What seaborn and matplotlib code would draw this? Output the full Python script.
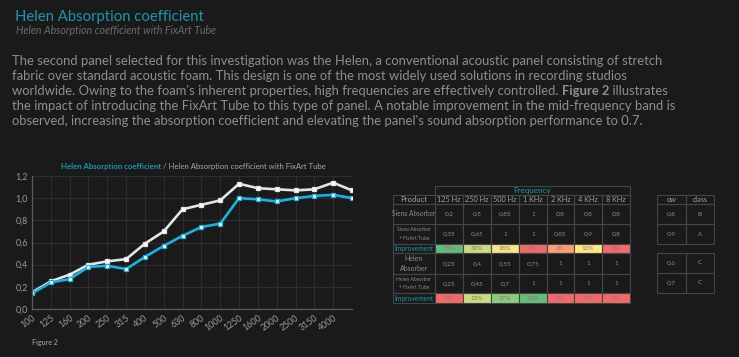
import matplotlib
matplotlib.use("Agg")
import matplotlib.pyplot as plt
from matplotlib.patches import Rectangle
from matplotlib.ticker import FuncFormatter
import seaborn as sns
import pandas as pd
import numpy as np

# ---------------- data ----------------
freqs = ["100", "125", "160", "200", "250", "315", "400", "500", "630", "800",
         "1000", "1250", "1600", "2000", "2500", "3150", "4000", "5000"]
helen = [0.14, 0.24, 0.27, 0.38, 0.39, 0.36, 0.47, 0.57, 0.66, 0.74,
         0.77, 1.00, 0.99, 0.97, 1.00, 1.02, 1.03, 1.00]
helen_fixart = [0.15, 0.25, 0.31, 0.40, 0.43, 0.45, 0.59, 0.70, 0.90, 0.94,
                0.98, 1.13, 1.09, 1.08, 1.07, 1.08, 1.14, 1.07]
shown_tick_labels = freqs[:-1]

table_bands = ["125 Hz", "250 Hz", "500 Hz", "1 KHz", "2 KHz", "4 KHz", "8 KHz"]
table_products = ["Siena Absorber", "Siena Absorber\n+ FixArt Tube", "Improvement",
                  "Helen\nAbsorber", "Helen Absorber\n+ FixArt Tube", "Improvement"]
siena = ["0,2", "0,5", "0,85", "1", "0,8", "0,8", "0,8"]
siena_fixart = ["0,35", "0,65", "1", "1", "0,85", "0,9", "0,8"]
siena_improv = ["75%", "30%", "18%", "0%", "6%", "13%", "0%"]
helen_tab = ["0,25", "0,4", "0,55", "0,75", "1", "1", "1"]
helen_fixart_tab = ["0,25", "0,45", "0,7", "1", "1", "1", "1"]
helen_improv = ["0%", "13%", "27%", "33%", "0%", "0%", "0%"]
siena_improv_colors = ["#62bb7a", "#c9dd80", "#f5e584", "#f16a6b", "#f9a072", "#fde884", "#f16a6b"]
helen_improv_colors = ["#f16a6b", "#c6dc80", "#8ccb7e", "#63be7b", "#f16a6b", "#f16a6b", "#f16a6b"]

rating_header = ["αw", "class"]
rating_siena = [["0,8", "B"], ["0,9", "A"]]
rating_helen = [["0,6", "C"], ["0,7", "C"]]

# ---------------- style ----------------
BG = "#1a1a1a"
TEAL = "#1798ad"
CYAN = "#17b4e2"
LIGHT = "#e4e4e4"
GREY_TXT = "#8e8e8e"
GRID = "#2d2d2d"
BORDER = "#454545"
FONT = "Lato"

sns.set_theme(style="dark")
plt.rcParams.update({
    "figure.facecolor": BG, "axes.facecolor": BG, "savefig.facecolor": BG,
})
plt.rcParams["font.family"] = [FONT, "DejaVu Sans"]

W, H = 739, 357
fig = plt.figure(figsize=(W / 100, H / 100), dpi=100)

def px(x0, y0, x1, y1):
    return [x0 / W, 1 - y1 / H, (x1 - x0) / W, (y1 - y0) / H]

ov = fig.add_axes([0, 0, 1, 1], zorder=0)
ov.set_xlim(0, W)
ov.set_ylim(H, 0)
ov.axis("off")

ov.text(15, 17, "Helen Absorption coefficient", color=TEAL, fontsize=10.7,
        va="center", ha="left")
ov.text(16, 30, "Helen Absorption coefficient with FixArt Tube", color="#6c6c6c",
        fontsize=7.6, style="italic", va="center", ha="left")

fig.canvas.draw()
renderer = fig.canvas.get_renderer()

def runs(x, y, parts, size, color):
    """Draw a line made of (text, weight) parts one after another."""
    for txt, weight in parts:
        t = ov.text(x, y, txt, color=color, fontsize=size, fontweight=weight,
                    va="center", ha="left")
        bb = t.get_window_extent(renderer=renderer)
        x += bb.width

para = [
    [("The second panel selected for this investigation was the Helen, a conventional acoustic panel consisting of stretch", "normal")],
    [("fabric over standard acoustic foam. This design is one of the most widely used solutions in recording studios", "normal")],
    [("worldwide. Owing to the foam's inherent properties, high frequencies are effectively controlled. ", "normal"),
     ("Figure 2", "bold"), (" illustrates", "normal")],
    [("the impact of introducing the FixArt Tube to this type of panel. A notable improvement in the mid-frequency band is", "normal")],
    [("observed, increasing the absorption coefficient and elevating the panel's sound absorption performance to 0.7.", "normal")],
]
for i, parts in enumerate(para):
    runs(12, 61 + 15 * i, parts, 9.4, GREY_TXT)

# ---------------- line chart ----------------
ax = fig.add_axes(px(32, 176, 352, 309), zorder=2)
df = pd.DataFrame({
    "pos": list(range(len(freqs))) * 2,
    "value": helen_fixart + helen,
    "series": ["Helen Absorption coefficient with FixArt Tube"] * len(freqs)
              + ["Helen Absorption coefficient"] * len(freqs),
})
palette = {"Helen Absorption coefficient with FixArt Tube": LIGHT,
           "Helen Absorption coefficient": CYAN}
sns.lineplot(data=df, x="pos", y="value", hue="series", palette=palette, ax=ax,
             linewidth=1.9, marker="s", markersize=3.4, markerfacecolor="white",
             markeredgewidth=0.9, legend=False)
for line, col in zip(ax.get_lines(), [LIGHT, CYAN]):
    line.set_markeredgecolor(col)
ax.set_xlim(0, len(freqs) - 1)
ax.set_ylim(0, 1.2)
ax.set_yticks(np.arange(0, 1.21, 0.2))
ax.yaxis.set_major_formatter(FuncFormatter(lambda v, p: f"{v:.1f}".replace(".", ",")))
ax.set_xticks(range(len(freqs)))
ax.set_xticklabels(shown_tick_labels + [""], rotation=35, ha="right",
                   rotation_mode="anchor")
ax.tick_params(axis="both", colors="#9a9a9a", labelsize=6.4, length=0, pad=3)
ax.grid(True, color=GRID, linewidth=0.8)
ax.set_xlabel("")
ax.set_ylabel("")
for s in ["top", "right"]:
    ax.spines[s].set_visible(False)
for s in ["left", "bottom"]:
    ax.spines[s].set_color("#5a5a5a")
    ax.spines[s].set_linewidth(0.9)

# chart title (two colours)
t1 = ov.text(61, 166, "Helen Absorption coefficient", color=TEAL, fontsize=5.6,
             fontweight="bold", va="center", ha="left")
bb = t1.get_window_extent(renderer=renderer)
ov.annotate(" / Helen Absorption coefficient with FixArt Tube", xy=(bb.x1, H - 166),
            xycoords="figure pixels", color="#a8a8a8", fontsize=5.6,
            va="center", ha="left")

ov.text(32, 343, "Figure 2", color="#8a8a8a", fontsize=5, fontweight="bold",
        va="center", ha="left")

# ---------------- main table ----------------
col_widths = [42, 28, 28, 28, 28, 27, 28, 28]
x_edges = np.concatenate([[393], 393 + np.cumsum(col_widths)])
row_heights = [9, 20, 20, 9, 21, 19, 10]
y_top = 195
y_edges = np.concatenate([[y_top], y_top + np.cumsum(row_heights)])

def cell(x0, x1, y0, y1, text="", color=GREY_TXT, face=None, size=4.6,
         weight="normal", ls=1.7):
    ov.add_patch(Rectangle((x0, y0), x1 - x0, y1 - y0,
                           facecolor=face if face else "none",
                           edgecolor=BORDER, linewidth=0.8, zorder=3))
    if text:
        ov.text((x0 + x1) / 2, (y0 + y1) / 2, text, color=color, fontsize=size,
                fontweight=weight, ha="center", va="center", zorder=4,
                linespacing=ls)

cell(x_edges[1], x_edges[-1], 186, 195, "Frequency", color=TEAL, size=5.8)
cell(x_edges[0], x_edges[1], y_edges[0], y_edges[1], "Product", color="#a0a0a0",
     size=5.6)
for j, b in enumerate(table_bands):
    cell(x_edges[j + 1], x_edges[j + 2], y_edges[0], y_edges[1], b,
         color="#a0a0a0", size=5.3)

rows = [siena, siena_fixart, siena_improv, helen_tab, helen_fixart_tab, helen_improv]
fills = [None, None, siena_improv_colors, None, None, helen_improv_colors]
label_sizes = [4.7, 3.6, 4.8, 5.0, 3.6, 4.8]
label_ls = [1.7, 1.8, 1.7, 1.45, 1.8, 1.7]
for i, (label, vals) in enumerate(zip(table_products, rows)):
    y0, y1 = y_edges[i + 1], y_edges[i + 2]
    is_imp = label == "Improvement"
    cell(x_edges[0], x_edges[1], y0, y1, label,
         color=TEAL if is_imp else "#8a8a8a", size=label_sizes[i], ls=label_ls[i])
    for j, v in enumerate(vals):
        face = fills[i][j] if fills[i] else None
        cell(x_edges[j + 1], x_edges[j + 2], y0, y1, v,
             color="#a06a6a" if face else "#8a8a8a", face=face, size=4.6)

# ---------------- rating table ----------------
rx = [657, 686, 714]
cell(rx[0], rx[1], 195, 204, rating_header[0], color="#a0a0a0", size=5.2)
cell(rx[1], rx[2], 195, 204, rating_header[1], color="#a0a0a0", size=5.2)
for block, ys in [(rating_siena, [204, 224, 244]), (rating_helen, [253, 273, 293])]:
    for i, (a, c) in enumerate(block):
        cell(rx[0], rx[1], ys[i], ys[i + 1], a, color="#8a8a8a", size=4.6)
        cell(rx[1], rx[2], ys[i], ys[i + 1], c, color="#8a8a8a", size=4.6)

fig.savefig("out.png", dpi=100, facecolor=BG)
